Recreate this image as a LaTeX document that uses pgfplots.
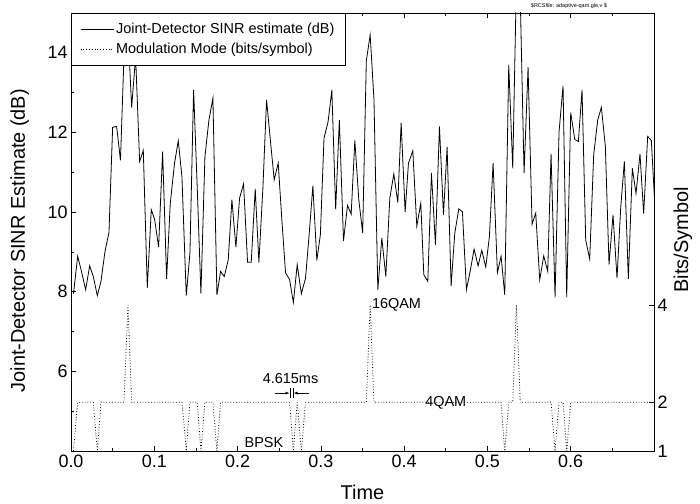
\documentclass[border=0pt]{standalone}
\usepackage{fontspec}
\setmainfont{Liberation Sans}
\usepackage{pgfplots}
\usepackage{pgfplotstable}
\pgfplotsset{compat=1.18}
\usetikzlibrary{arrows.meta}

\pgfplotstableread{
t v
0.0030 7.95
0.0080 8.89
0.0127 8.50
0.0176 8.05
0.0224 8.65
0.0268 8.38
0.0316 7.90
0.0360 8.26
0.0408 9.01
0.0456 9.49
0.0500 12.13
0.0548 12.15
0.0594 11.30
0.0636 13.90
0.0684 14.60
0.0728 12.63
0.0776 13.90
0.0824 11.27
0.0868 11.55
0.0916 8.10
0.0964 10.06
0.1004 9.82
0.1052 9.12
0.1100 11.52
0.1148 8.32
0.1192 10.22
0.1244 11.24
0.1288 11.79
0.1332 10.89
0.1384 7.90
0.1428 8.97
0.1472 13.07
0.1516 10.60
0.1560 7.95
0.1608 11.39
0.1656 12.31
0.1704 12.86
0.1752 7.92
0.1796 8.51
0.1840 8.38
0.1888 8.80
0.1932 10.31
0.1980 9.12
0.2024 10.35
0.2072 10.71
0.2120 8.74
0.2164 8.74
0.2212 10.58
0.2256 8.74
0.2304 10.60
0.2348 12.82
0.2394 11.80
0.2440 10.81
0.2488 11.23
0.2532 9.80
0.2576 8.47
0.2624 8.31
0.2670 7.73
0.2716 8.68
0.2766 7.95
0.2816 8.34
0.2862 9.50
0.2904 10.66
0.2952 8.79
0.2994 9.43
0.3038 11.86
0.3086 12.26
0.3132 13.06
0.3178 10.07
0.3222 12.31
0.3272 9.28
0.3320 10.17
0.3364 9.95
0.3408 11.80
0.3456 10.30
0.3502 9.48
0.3546 13.80
0.3592 14.45
0.3638 12.82
0.3684 8.05
0.3732 9.35
0.3780 8.38
0.3828 10.35
0.3876 10.96
0.3924 10.24
0.3964 12.24
0.4012 10.00
0.4052 11.23
0.4104 11.54
0.4152 9.65
0.4200 10.22
0.4236 8.43
0.4284 8.26
0.4328 10.98
0.4376 9.18
0.4424 12.15
0.4472 9.93
0.4516 11.63
0.4564 8.15
0.4608 9.47
0.4656 10.08
0.4700 10.01
0.4748 8.05
0.4796 8.55
0.4840 9.07
0.4888 8.65
0.4932 9.04
0.4980 8.62
0.5024 9.39
0.5068 11.23
0.5120 8.48
0.5164 8.89
0.5208 7.92
0.5256 13.70
0.5304 11.10
0.5348 15.80
0.5394 15.40
0.5440 10.98
0.5488 13.64
0.5536 9.70
0.5580 9.97
0.5628 8.30
0.5676 8.90
0.5724 8.51
0.5764 11.46
0.5812 7.86
0.5860 12.02
0.5908 13.17
0.5952 7.87
0.6000 12.50
0.6048 11.83
0.6092 11.77
0.6136 13.07
0.6180 9.30
0.6228 8.82
0.6276 11.44
0.6324 12.31
0.6368 12.63
0.6416 11.65
0.6460 8.68
0.6508 9.93
0.6556 8.34
0.6600 10.10
0.6644 11.27
0.6692 8.32
0.6740 11.10
0.6784 10.47
0.6832 11.46
0.6876 9.96
0.6924 11.90
0.6968 11.80
0.7008 10.26
}\sinr

\pgfplotstableread{
t m
0.0030 1
0.0080 2
0.0268 2
0.0316 1
0.0360 2
0.0636 2
0.0684 4
0.0728 2
0.1332 2
0.1384 1
0.1428 2
0.1516 2
0.1560 1
0.1608 2
0.1704 2
0.1752 1
0.1796 2
0.2624 2
0.2670 1
0.2716 2
0.2766 1
0.2816 2
0.3502 2
0.3546 2
0.3592 4
0.3638 2
0.5164 2
0.5208 1
0.5256 2
0.5304 2
0.5348 4
0.5394 2
0.5764 2
0.5812 1
0.5860 2
0.5908 2
0.5952 1
0.6000 2
0.7008 2
}\mode

\begin{document}
\begin{tikzpicture}
\useasboundingbox (0,0) rectangle (700bp,504bp);
\pgfplotsset{
  common/.style={
    at={(71bp,53bp)}, anchor=south west,
    scale only axis, width=583bp, height=438bp,
    xmin=0, xmax=0.7,
    /pgf/number format/assume math mode=true,
    tick label style={font=\fontsize{18}{18}\selectfont},
    label style={font=\fontsize{20}{20}\selectfont},
    major tick length=5bp, minor tick length=3bp,
    every tick/.style={black, line width=0.6bp},
    axis line style={line width=0.8bp},
  }
}
\begin{axis}[common,
  ymin=4, ymax=15,
  xtick={0,0.1,0.2,0.3,0.4,0.5,0.6},
  minor xtick={0.05,0.15,0.25,0.35,0.45,0.55,0.65},
  ytick={6,8,10,12,14}, minor ytick={5,7,9,11,13},
  ytick pos=left, xtick pos=both,
  xticklabel style={/pgf/number format/fixed, /pgf/number format/fixed zerofill, /pgf/number format/precision=1},
  xlabel={Time},
  ylabel={Joint-Detector SINR Estimate (dB)},
  xlabel style={at={(axis description cs:0.5,-0.095)}, anchor=center},
  ylabel style={at={(axis description cs:-0.088,0.48)}, anchor=center},
  legend style={at={(0,1)}, anchor=north west, draw=black, line width=0.6bp, fill=white,
    font=\fontsize{14.5}{16}\selectfont, inner xsep=9bp, inner ysep=8bp, row sep=4bp},
  legend cell align=left,
  legend image code/.code={\draw[#1] (0bp,0bp) -- (27bp,0bp); \path (0bp,0bp) -- (33bp,0bp);},
]
\addplot[black, line width=0.8bp] table[x=t, y=v] {\sinr};
\addlegendentry{Joint-Detector SINR estimate (dB)}
\addlegendimage{black, dotted, line width=0.8bp}
\addlegendentry{Modulation Mode (bits/symbol)}
\end{axis}
\begin{axis}[common,
  ymin=1, ymax=10,
  axis x line=none, axis y line*=right,
  ytick={1,2,4},
]
\addplot[black, dotted, line width=0.8bp] table[x=t, y=m] {\mode};
\node[font=\fontsize{14.5}{15}\selectfont, anchor=west, inner sep=0pt] at (axis cs:0.3612,4) {16QAM};
\node[font=\fontsize{14.5}{15}\selectfont, inner sep=0pt] at (axis cs:0.45,2) {4QAM};
\node[font=\fontsize{14.5}{15}\selectfont, inner sep=0pt] at (axis cs:0.2316,1.17) {BPSK};
\node[font=\fontsize{14.5}{15}\selectfont, inner sep=0pt] at (axis cs:0.2636,2.48) {4.615ms};
\draw[line width=0.6bp, -{Latex[length=4bp,width=3bp]}] (axis cs:0.2448,2.19) -- (axis cs:0.2624,2.19);
\draw[line width=0.6bp] (axis cs:0.2628,2.09) -- (axis cs:0.2628,2.29);
\draw[line width=0.6bp] (axis cs:0.2668,2.09) -- (axis cs:0.2668,2.29);
\draw[line width=0.6bp, -{Latex[length=4bp,width=3bp]}] (axis cs:0.2856,2.19) -- (axis cs:0.2672,2.19);
\end{axis}
\node[font=\fontsize{20}{20}\selectfont, rotate=90] at (683bp,264bp) {Bits/Symbol};
\node[font=\fontsize{5.5}{6}\selectfont] at (569bp,498bp) {\$RCSfile: adaptive-qam.gle,v \$};
\end{tikzpicture}
\end{document}
